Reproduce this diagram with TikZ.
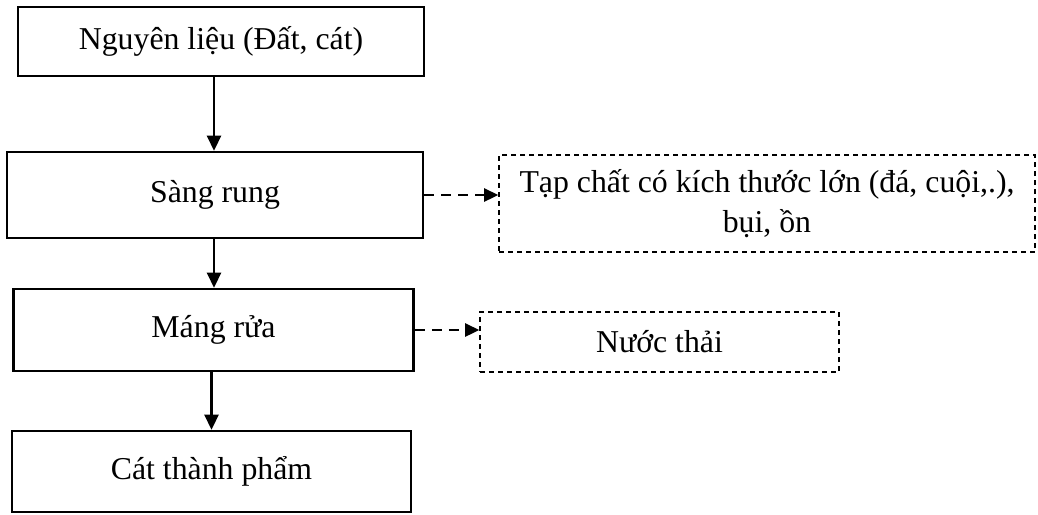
\documentclass[tikz,border=0pt]{standalone}
\usepackage{fontspec}
\setmainfont{Liberation Serif}
\usetikzlibrary{arrows.meta}
\begin{document}
\begin{tikzpicture}[x=1pt,y=-1pt,
  every node/.style={font=\fontsize{31.8}{40}\selectfont, inner sep=0pt},
  mainbox/.style={draw, line width=2.6pt, rectangle},
  sidebox/.style={draw, line width=1.6pt, rectangle, dash pattern=on 5pt off 4pt, align=center},
  flow/.style={line width=2.6pt, -{Triangle[length=15pt,width=14pt]}},
  dflow/.style={line width=2.6pt, dash pattern=on 10pt off 7pt, -{Triangle[length=14pt,width=13pt]}}]
\useasboundingbox (0,0) rectangle (1038,514);
\fill[white] (0,0) rectangle (1038,514);
\node[mainbox, minimum width=406pt, minimum height=69pt] (b1) at (221,41.5) {Nguyên liệu (Đất, cát)};
\node[mainbox, minimum width=416pt, minimum height=86pt] (b2) at (215,195) {Sàng rung};
\node[mainbox, minimum width=400pt, minimum height=82pt] (b3) at (213.5,330) {Máng rửa};
\node[mainbox, minimum width=399pt, minimum height=81pt] (b4) at (211.5,471.5) {Cát thành phẩm};
\node[sidebox, minimum width=536pt, minimum height=97pt] (t1) at (767,203.5) {Tạp chất có kích thước lớn (đá, cuội,.),\\bụi, ồn};
\node[sidebox, minimum width=359pt, minimum height=60pt] (t2) at (659.5,342) {Nước thải};
\coordinate (a1) at (214,0);
\draw[flow] (b1.south -| a1) -- (b2.north -| a1);
\draw[flow] (b2.south -| a1) -- (b3.north -| a1);
\draw[flow] (b3.south -| b4.north) -- (b4.north);
\draw[dflow] (b2.east) -- (b2.east -| t1.west);
\draw[dflow] (b3.east) -- (b3.east -| t2.west);
\end{tikzpicture}
\end{document}
